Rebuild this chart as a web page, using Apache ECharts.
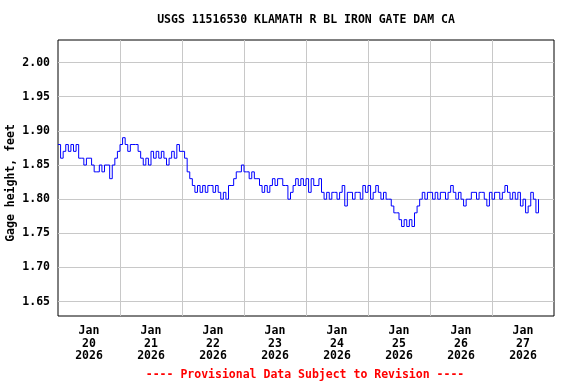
<!DOCTYPE html>
<html>
<head>
<meta charset="utf-8">
<script src="https://cdn.jsdelivr.net/npm/echarts@6/dist/echarts.min.js"></script>
<style>html,body{margin:0;padding:0;background:#fff;}#c{width:576px;height:384px;}</style>
</head>
<body>
<div id="c"></div>
<script>
// Hourly gage height (feet), starting Jan 20 2026 00:00
const gageHeight = [
  1.88,1.86,1.87,1.88,1.87,1.88,1.87,1.88,1.86,1.86,1.85,1.86,
  1.86,1.85,1.84,1.84,1.85,1.84,1.85,1.85,1.83,1.85,1.86,1.87,
  1.88,1.89,1.88,1.87,1.88,1.88,1.88,1.87,1.86,1.85,1.86,1.85,
  1.87,1.86,1.87,1.86,1.87,1.86,1.85,1.86,1.87,1.86,1.88,1.87,
  1.87,1.86,1.84,1.83,1.82,1.81,1.82,1.81,1.82,1.81,1.82,1.82,
  1.81,1.82,1.81,1.80,1.81,1.80,1.82,1.82,1.83,1.84,1.84,1.85,
  1.84,1.84,1.83,1.84,1.83,1.83,1.82,1.81,1.82,1.81,1.82,1.83,
  1.82,1.83,1.83,1.82,1.82,1.80,1.81,1.82,1.83,1.82,1.83,1.82,
  1.83,1.81,1.83,1.82,1.82,1.83,1.81,1.80,1.81,1.80,1.81,1.81,
  1.80,1.81,1.82,1.79,1.81,1.81,1.80,1.81,1.81,1.80,1.82,1.81,
  1.82,1.80,1.81,1.82,1.81,1.80,1.81,1.80,1.80,1.79,1.78,1.78,
  1.77,1.76,1.77,1.76,1.77,1.76,1.78,1.79,1.80,1.81,1.80,1.81,
  1.81,1.80,1.81,1.80,1.81,1.81,1.80,1.81,1.82,1.81,1.80,1.81,
  1.80,1.79,1.80,1.80,1.81,1.81,1.80,1.81,1.81,1.80,1.79,1.81,
  1.80,1.81,1.81,1.80,1.81,1.82,1.81,1.80,1.81,1.80,1.81,1.79,
  1.80,1.78,1.79,1.81,1.80,1.78,1.80
];
const yTicks = [1.65,1.70,1.75,1.80,1.85,1.90,1.95,2.00];
const dayLines = [24,48,72,96,120,144,168];       // midnight gridlines (hours)
const dayLabels = [12,36,60,84,108,132,156,180];  // noon label positions (hours)
const dayNames = ['20','21','22','23','24','25','26','27'];
const titleText = 'USGS 11516530 KLAMATH R BL IRON GATE DAM CA';
const yName = 'Gage height, feet';
const footer = '---- Provisional Data Subject to Revision ----';

const chart = echarts.init(document.getElementById('c'), null, {renderer:'canvas'});
const font = '"DejaVu Sans Mono", "Liberation Mono", monospace';
chart.setOption({
  animation: false,
  backgroundColor: '#fff',
  grid: {left: 58, right: 22, top: 40, bottom: 68, show: true, borderColor: '#000', borderWidth: 1, backgroundColor: 'transparent'},
  xAxis: {
    type: 'value', min: 0, max: 192,
    axisLine: {show: false},
    axisTick: {show: false, customValues: dayLines},
    splitLine: {show: true, lineStyle: {color: '#c8c8c8', width: 1}},
    axisLabel: {
      customValues: dayLabels, margin: 9,
      fontFamily: font, fontWeight: 'bold', fontSize: 11.5, color: '#000', lineHeight: 12.5,
      formatter: v => { const i = dayLabels.indexOf(v); return i < 0 ? '' : 'Jan\n' + dayNames[i] + '\n2026'; }
    }
  },
  yAxis: {
    type: 'value', min: 1.629, max: 2.033,
    axisLine: {show: false},
    axisTick: {show: false, customValues: yTicks},
    splitLine: {show: true, lineStyle: {color: '#c8c8c8', width: 1}},
    axisLabel: {
      customValues: yTicks, margin: 8,
      fontFamily: font, fontWeight: 'bold', fontSize: 11.5, color: '#000',
      formatter: v => v.toFixed(2)
    }
  },
  graphic: [
    {type: 'text', x: 306, y: 20, style: {text: titleText, font: 'bold 11.5px ' + font, fill: '#000', align: 'center', verticalAlign: 'middle', textAlign: 'center', textVerticalAlign: 'middle'}},
    {type: 'text', x: 11, y: 183, rotation: Math.PI / 2, style: {text: yName, font: 'bold 11.5px ' + font, fill: '#000', align: 'center', verticalAlign: 'middle', textAlign: 'center', textVerticalAlign: 'middle'}},
    {type: 'text', x: 305, y: 375, style: {text: footer, font: 'bold 11.5px ' + font, fill: '#ff0000', align: 'center', verticalAlign: 'middle', textAlign: 'center', textVerticalAlign: 'middle'}}
  ],
  series: [{
    type: 'line', step: 'end', showSymbol: false, symbol: 'none',
    lineStyle: {color: '#0000ff', width: 1},
    data: gageHeight.map((v, i) => [i, v]),
    z: 3
  }]
});
</script>
</body>
</html>
